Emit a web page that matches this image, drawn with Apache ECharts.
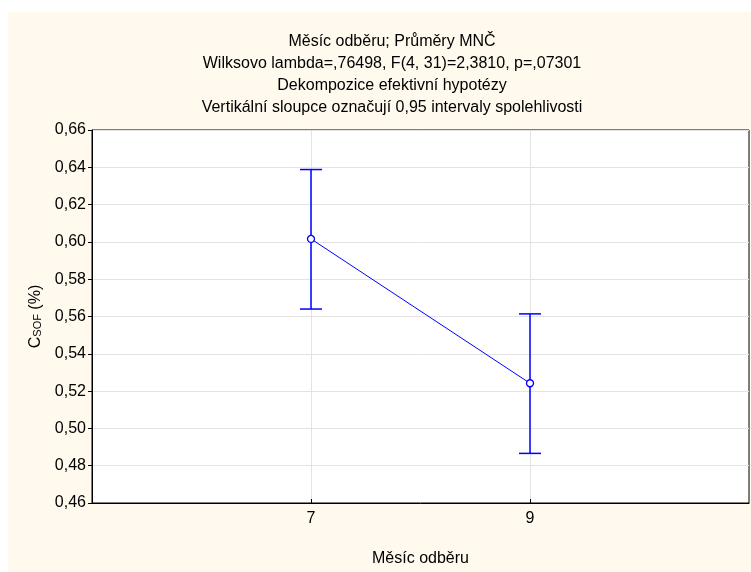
<!DOCTYPE html>
<html>
<head>
<meta charset="utf-8">
<script src="https://cdn.jsdelivr.net/npm/echarts@6/dist/echarts.min.js"></script>
<style>
  html, body { margin: 0; padding: 0; background: #fff; }
  #chart { width: 751px; height: 572px; }
</style>
</head>
<body>
<div id="chart"></div>
<script>
// data
var categories = ['', '7', '9', ''];
var months = ['7', '9'];
var means = [0.6016, 0.5242];
var ciLow = [0.5640, 0.4866];
var ciHigh = [0.6388, 0.5614];

var titleLines = [
  'Měsíc odběru; Průměry MNČ',
  'Wilksovo lambda=,76498, F(4, 31)=2,3810, p=,07301',
  'Dekompozice efektivní hypotézy',
  'Vertikální sloupce označují 0,95 intervaly spolehlivosti'
];

var blue = '#0000ff';
var font = '"Liberation Sans", Arial, sans-serif';

var lineData = [];
var barData = [];
for (var i = 0; i < months.length; ++i) {
  lineData.push([months[i], means[i]]);
  barData.push([months[i], ciLow[i], ciHigh[i]]);
}

// only the two real months get ticks / grid lines
var showMid = function(index) {
  return index === 1 || index === 2;
};

var myChart = echarts.init(document.getElementById('chart'));
var option = {
  backgroundColor: '#fff',
  animation: false,
  textStyle: { fontFamily: font },
  graphic: [{
    type: 'rect',
    z: -10,
    shape: { x: 8, y: 12, width: 743, height: 560 },
    style: { fill: '#fff9ee' }
  }],
  title: {
    text: titleLines.join('\n'),
    left: 387,
    top: 26,
    textAlign: 'center',
    textStyle: {
      fontFamily: font,
      fontSize: 16,
      fontWeight: 'normal',
      color: '#000',
      lineHeight: 22
    }
  },
  grid: {
    left: 92,
    right: 2,
    top: 130,
    bottom: 61,
    show: true,
    backgroundColor: '#fff',
    borderColor: '#000',
    borderWidth: 1
  },
  xAxis: {
    type: 'category',
    data: categories,
    boundaryGap: false,
    name: 'Měsíc odběru',
    nameLocation: 'middle',
    nameGap: 48,
    nameTextStyle: { fontFamily: font, fontSize: 16, color: '#000' },
    axisLine: { lineStyle: { color: '#000' } },
    axisTick: { interval: showMid, length: 4, inside: true, lineStyle: { color: '#000' } },
    axisLabel: { interval: showMid, fontFamily: font, fontSize: 16, color: '#000', margin: 8 },
    splitLine: { show: true, interval: showMid, lineStyle: { color: '#e3e3e3' } }
  },
  yAxis: {
    type: 'value',
    min: 0.46,
    max: 0.66,
    interval: 0.02,
    name: '{c|C}{s|SOF}{c| (%)}',
    nameLocation: 'middle',
    nameGap: 47,
    nameTextStyle: {
      rich: {
        c: { fontFamily: font, fontSize: 16, color: '#000' },
        s: { fontFamily: font, fontSize: 11, color: '#000', verticalAlign: 'bottom', padding: [6, 0, 0, 0] }
      }
    },
    axisLine: { show: true, lineStyle: { color: '#000' } },
    axisTick: { show: true, length: 4, lineStyle: { color: '#000' } },
    axisLabel: {
      fontFamily: font,
      fontSize: 16,
      color: '#000',
      margin: 6,
      formatter: function(v) {
        return v.toFixed(2).replace('.', ',');
      }
    },
    splitLine: { lineStyle: { color: '#e3e3e3' } }
  },
  series: [{
    name: 'CI',
    type: 'custom',
    data: barData,
    z: 2,
    renderItem: function(params, api) {
      var top = api.coord([api.value(0), api.value(2)]);
      var bot = api.coord([api.value(0), api.value(1)]);
      var half = 11;
      var st = { stroke: blue, lineWidth: 1.5 };
      return {
        type: 'group',
        children: [
          { type: 'line', shape: { x1: top[0], y1: top[1], x2: bot[0], y2: bot[1] }, style: st },
          { type: 'line', shape: { x1: top[0] - half, y1: top[1], x2: top[0] + half, y2: top[1] }, style: st },
          { type: 'line', shape: { x1: bot[0] - half, y1: bot[1], x2: bot[0] + half, y2: bot[1] }, style: st }
        ]
      };
    }
  }, {
    name: 'mean',
    type: 'line',
    data: lineData,
    z: 3,
    symbol: 'circle',
    symbolSize: 7,
    itemStyle: { color: '#fff', borderColor: blue, borderWidth: 1.3 },
    lineStyle: { color: blue, width: 1 }
  }]
};
myChart.setOption(option);
</script>
</body>
</html>
